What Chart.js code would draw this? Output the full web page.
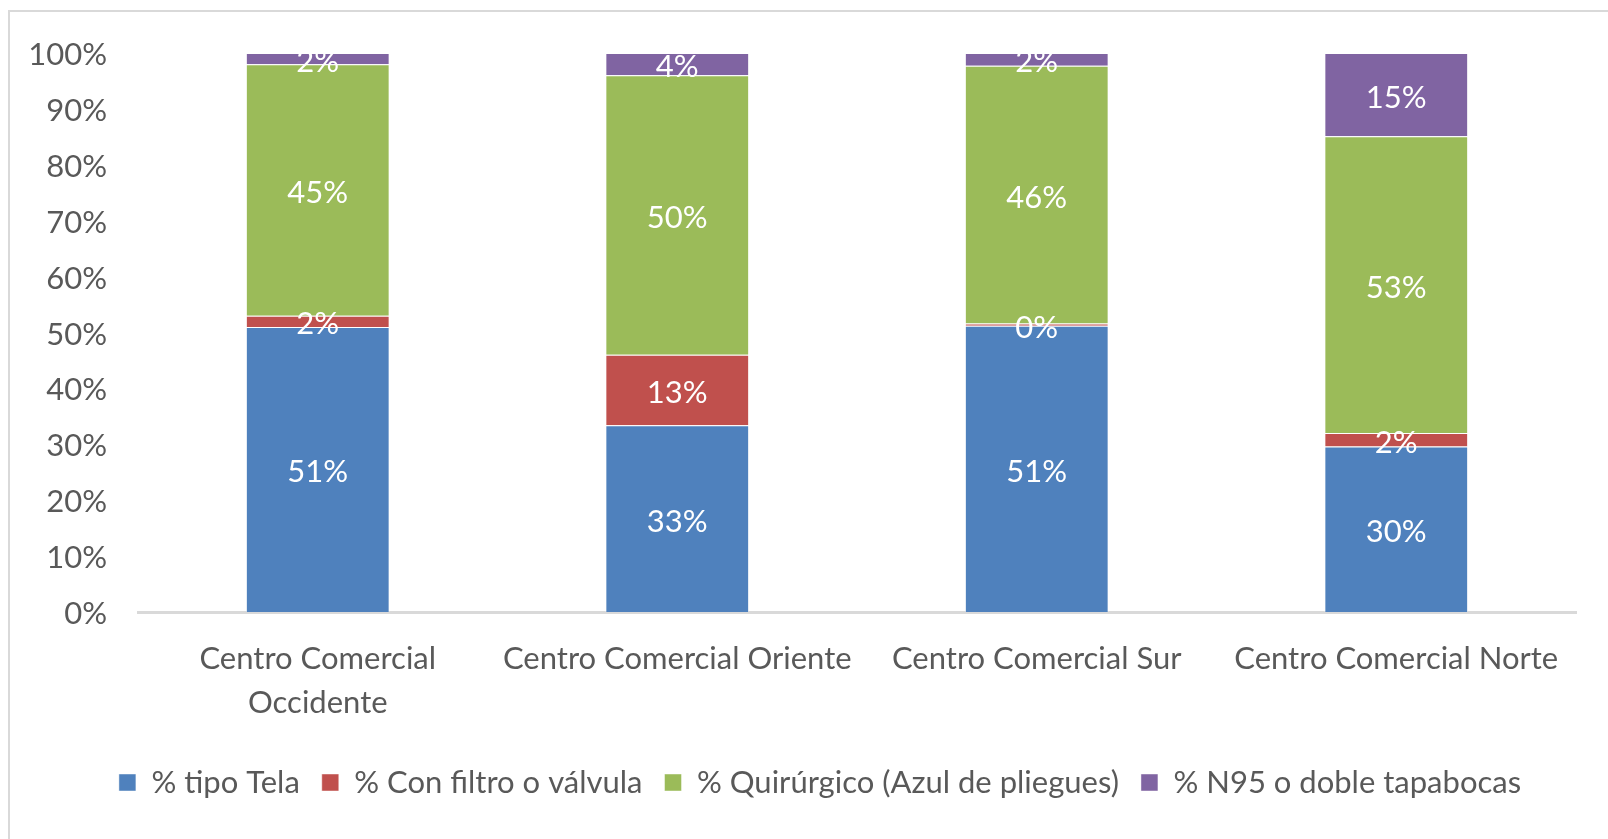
<!DOCTYPE html>
<html>
<head>
<meta charset="utf-8">
<script src="https://cdn.jsdelivr.net/npm/chart.js@4.4.1/dist/chart.umd.min.js"></script>
<style>
  html, body { margin: 0; padding: 0; background: #fff; overflow: hidden; }
  #frame { position: absolute; left: 8px; top: 10px; width: 1700px; height: 900px; border: 2px solid #d9d9d9; box-sizing: border-box; }
  #wrap { position: absolute; left: 0; top: 0; width: 1608px; height: 839px; }
</style>
</head>
<body>
<div id="frame"></div>
<div id="wrap"><canvas id="maskChart"></canvas></div>
<script>
// Categories and series (percent of people per mask type)
let categories = [["Centro Comercial", "Occidente"], "Centro Comercial Oriente", "Centro Comercial Sur", "Centro Comercial Norte"];
let seriesNames = ["% tipo Tela", "% Con filtro o válvula", "% Quirúrgico (Azul de pliegues)", "% N95 o doble tapabocas"];
let tela = [51, 33.4, 51.2, 29.6];
let filtro = [2, 12.6, 0.4, 2.4];
let quirurgico = [45, 50, 46.1, 53.1];
let n95 = [2, 4, 2.3, 14.9];
let yTicks = [0, 10, 20, 30, 40, 50, 60, 70, 80, 90, 100];

let colors = ["#4f81bd", "#c0504d", "#9bbb59", "#8064a2"];
let textColor = "#595959";
let fontFamily = "Lato, 'Open Sans', sans-serif";
let fontSize = 31;

// Draw the value labels in the middle of each segment
const segmentLabels = {
    id: "segmentLabels",
    afterDatasetsDraw(chart) {
        let ctx = chart.ctx;
        ctx.save();
        ctx.fillStyle = "#ffffff";
        ctx.font = fontSize + "px " + fontFamily;
        ctx.textAlign = "center";
        ctx.textBaseline = "middle";
        chart.data.datasets.forEach((ds, i) => {
            chart.getDatasetMeta(i).data.forEach((bar, j) => {
                let y = (bar.y + bar.base) / 2 + 3;
                ctx.fillText(Math.round(ds.data[j]) + "%", bar.x, y);
            });
        });
        ctx.restore();
    }
};

// Excel centres the legend a bit right of the plot, nudge it over
const legendShift = {
    id: "legendShift",
    afterLayout(chart) {
        chart.legend.left += 32;
        chart.legend.right += 32;
    }
};

let series = [tela, filtro, quirurgico, n95];

let ctx = document.getElementById("maskChart").getContext("2d");
let chart = new Chart(ctx, {
    type: "bar",
    data: {
        labels: categories,
        datasets: series.map((values, i) => ({
            label: seriesNames[i],
            data: values,
            backgroundColor: colors[i],
            borderColor: "rgba(255,255,255,0.45)",
            borderWidth: 1,
            barPercentage: 0.4,
            categoryPercentage: 1.0
        }))
    },
    options: {
        responsive: true,
        maintainAspectRatio: false,
        animation: false,
        layout: { padding: { left: 0, right: 32, top: 53, bottom: 31 } },
        scales: {
            x: {
                stacked: true,
                grid: { display: false, drawTicks: false },
                border: { display: true, color: "#d9d9d9", width: 3 },
                ticks: {
                    color: textColor,
                    font: { family: fontFamily, size: fontSize, lineHeight: 1.42 },
                    padding: 25,
                    maxRotation: 0,
                    autoSkip: false
                },
                afterFit: s => { s.height = 133; }
            },
            y: {
                stacked: true,
                min: 0,
                max: 100,
                grid: { display: false, drawTicks: false },
                border: { display: false },
                afterBuildTicks: s => { s.ticks = yTicks.map(v => ({ value: v })); },
                ticks: {
                    color: textColor,
                    font: { family: fontFamily, size: fontSize },
                    padding: 31,
                    labelOffset: 2,
                    callback: v => v + "%"
                },
                afterFit: s => { s.width = 138; }
            }
        },
        plugins: {
            legend: {
                position: "bottom",
                labels: {
                    color: textColor,
                    font: { family: fontFamily, size: fontSize },
                    boxWidth: 17,
                    boxHeight: 17,
                    padding: 22
                }
            },
            tooltip: { enabled: false }
        }
    },
    plugins: [segmentLabels, legendShift]
});
</script>
</body>
</html>
